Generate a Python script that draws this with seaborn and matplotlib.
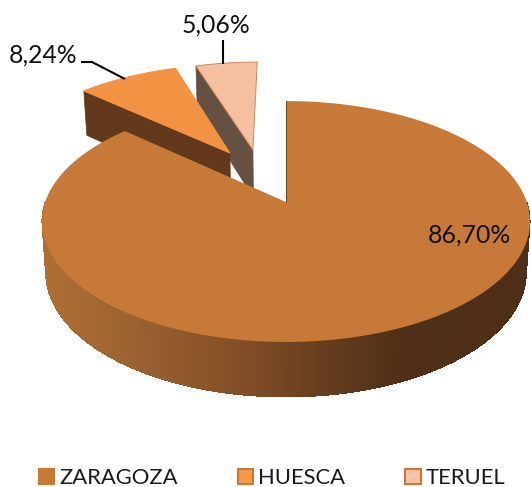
import numpy as np
import matplotlib
matplotlib.use("Agg")
import matplotlib.pyplot as plt
from matplotlib.patches import Patch
from matplotlib.colors import to_rgb
import seaborn as sns

categories = ["ZARAGOZA", "HUESCA", "TERUEL"]
shares = [86.70, 8.24, 5.06]
labels = ["86,70%", "8,24%", "5,06%"]

top_colors = ["#C77A37", "#F29343", "#F5BFA2"]
legend_fill = ["#C77A37", "#FB9848", "#F9C4A6"]
wall_colors = [None, "#623A1B", "#655042"]
offsets = [(0.0, 0.0), (-0.250, 0.448), (-0.148, 0.478)]

sns.set_style("white")
plt.rcParams["font.family"] = ["Lato", "DejaVu Sans"]

# projection of the tilted disc onto pixel-like data coordinates
CX, CY, A, B, K = 286.0, 202.0, 240.8, 117.3, 0.162
def project(u, v, bottom=False):
    w = 1 + K * v
    x = A * u / w
    y = CY - B * v / w
    if bottom:
        x = x * 0.985
        y = y + (50 - 5 * v)
    return CX + x, y

fig = plt.figure(figsize=(5.31, 4.87), dpi=100)
ax = fig.add_axes([0, 0, 1, 1])
ax.set_xlim(0, 531)
ax.set_ylim(487, 0)
ax.axis("off")

edges = np.concatenate([[0], np.cumsum(shares)]) / 100 * 2 * np.pi

def slice_outline(i):
    th = np.linspace(edges[i], edges[i + 1], 200)
    du, dv = offsets[i]
    u = np.concatenate([[du], du + np.sin(th)])
    v = np.concatenate([[dv], dv + np.cos(th)])
    return u, v

# exploded slices, farthest first
for i in [2, 1]:
    du, dv = offsets[i]
    ue, ve = du + np.sin(edges[i]), dv + np.cos(edges[i])
    x1, y1 = project(np.array([du, ue]), np.array([dv, ve]))
    x2, y2 = project(np.array([ue, du]), np.array([ve, dv]), bottom=True)
    ax.fill(np.r_[x1, x2], np.r_[y1, y2], color=wall_colors[i], lw=0.5, zorder=2 + (2 - i))
    u, v = slice_outline(i)
    x, y = project(u, v)
    edge = "#CC8A5C" if i == 2 else top_colors[i]
    ax.fill(x, y, facecolor=top_colors[i], edgecolor=edge, lw=0.7, zorder=3 + (2 - i))

# main slice: shaded rim, front half only
rim_stops_x = [40, 130, 230, 330, 400, 531]
rim_stops_c = ["#AE6F33", "#9C6230", "#855027", "#643C1D", "#4F2F17", "#4D2E16"]
rim_rgb = np.array([to_rgb(c) for c in rim_stops_c])
th = np.linspace(edges[0], edges[1], 721)
th = th[np.cos(th) < 0.0]
for a, b in zip(th[:-1], th[1:] + 0.01):
    ua, va = np.sin([a, b]), np.cos([a, b])
    x1, y1 = project(ua, va)
    x2, y2 = project(ua[::-1], va[::-1], bottom=True)
    xm = x1.mean()
    col = [np.interp(xm, rim_stops_x, rim_rgb[:, k]) for k in range(3)]
    ax.fill(np.r_[x1, x2], np.r_[y1, y2], facecolor=col, edgecolor="none", lw=0,
            antialiased=False, zorder=5)

u, v = slice_outline(0)
x, y = project(u, v)
ax.fill(x, y, color=top_colors[0], lw=0, zorder=6)
xs, ys = project(np.array([0.0, 0.0]), np.array([0.0, 1.0]))
ax.plot(xs - 0.5, ys, color="#6B4420", lw=0.7, zorder=7)

# labels and leader lines
ax.text(469, 235, labels[0], ha="center", va="center", fontsize=17.8, color="#111111", zorder=8)
ax.text(43, 55, labels[1], ha="center", va="center", fontsize=17.8, color="#111111", zorder=8)
ax.text(216, 25, labels[2], ha="center", va="center", fontsize=17.8, color="#111111", zorder=8)
ax.plot([81, 92, 125], [62, 62, 79], color="black", lw=1.5, zorder=8, solid_capstyle="butt")
ax.plot([223, 223], [40, 64], color="black", lw=1.5, zorder=8, solid_capstyle="butt")

handles = [Patch(facecolor=f, edgecolor="#C77A37", lw=1.5) for f in legend_fill]
ax.legend(handles, categories, loc="center left", bbox_to_anchor=(0.0735, 0.0185),
          ncol=3, frameon=False, fontsize=15.8, handlelength=0.7, handleheight=0.7,
          handletextpad=0.24, columnspacing=2.72, borderpad=0, borderaxespad=0,
          labelcolor="#1a1a1a")

fig.savefig("out.png", dpi=100, facecolor="white")
